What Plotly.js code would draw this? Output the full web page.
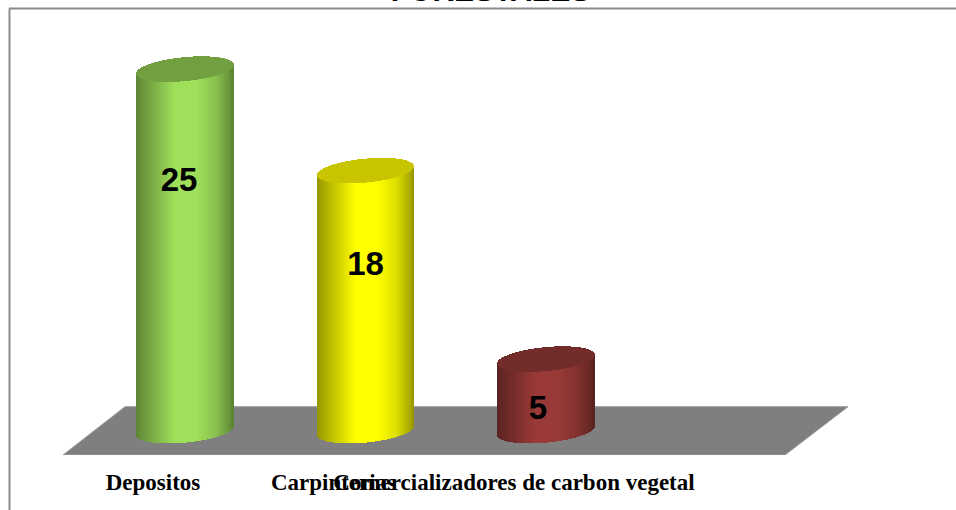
<!DOCTYPE html>
<html>
<head>
<meta charset="utf-8">
<script src="https://cdn.plot.ly/plotly-3.0.1.min.js"></script>
<style>html,body{margin:0;padding:0;background:#fff;overflow:hidden}</style>
</head>
<body>
<div id="chart" style="width:956px;height:510px"></div>
<script>
const categories = ["Depositos", "Carpinterias", "Comercializadores de carbon vegetal"];
const values = [25, 18, 5];
const titleText = "FORESTALES";
const sideLight = ["#9fe05a", "#ffff00", "#993a38"];
const capColors = ["#729f40", "#c8c400", "#722d2b"];

// chart geometry, all expressed in axis units
const W = 956, H = 510;
const pxX = 180.5, pxY = 14.5;                 // pixels per axis unit
const mL = 185, zeroPx = 435, floorFrontPx = 455;
const xMin = -mL / pxX, xMax = (W - mL) / pxX;
const yMin = -(floorFrontPx - zeroPx) / pxY, yMax = zeroPx / pxY;
const radius = 48.5 / pxX, tilt = 4.4 / pxY, halfH = 12 / pxY, centerLift = 4.4 / pxY;
const capDrop = 1 / pxY;
const skew = 32 / pxX;

function shade(hex, k) {
  const n = parseInt(hex.slice(1), 16);
  const c = [n >> 16 & 255, n >> 8 & 255, n & 255].map(v => Math.round(v * k));
  return `rgb(${c[0]},${c[1]},${c[2]})`;
}
const stops = [[-1, .58], [-.95, .62], [-.3, .95], [-.2, 1], [.25, 1], [.65, .86], [.9, .68], [1, .58]];
function profile(u) {
  for (let i = 1; i < stops.length; i++) {
    if (u <= stops[i][0]) {
      const t = (u - stops[i - 1][0]) / (stops[i][0] - stops[i - 1][0]);
      return stops[i - 1][1] + t * (stops[i][1] - stops[i - 1][1]);
    }
  }
  return stops[stops.length - 1][1];
}

const traces = [];
values.forEach((v, i) => {
  const us = [];
  for (let k = -48; k <= 48; k++) us.push(k / 48.5);
  const xs = us.map(u => i + u * radius);
  const line = us.map(u => u * tilt);                    // tilt of the ellipse axis
  const arc = us.map(u => halfH * Math.sqrt(1 - u * u));
  const low = (j, lvl) => lvl + line[j] - arc[j] + centerLift;
  const high = (j, lvl) => lvl + line[j] + arc[j] + centerLift;
  const w = 1.5 / pxX;
  const top = v - capDrop;
  // cylinder side
  traces.push({
    type: "bar", x: xs, width: xs.map(() => w),
    base: us.map((u, j) => low(j, 0)),
    y: us.map(() => top),
    marker: { color: us.map(u => shade(sideLight[i], profile(u))), line: { width: 0 } },
    hoverinfo: "skip", showlegend: false
  });
  // top cap
  traces.push({
    type: "bar", x: xs, width: xs.map(() => w),
    base: us.map((u, j) => low(j, top)),
    y: us.map((u, j) => high(j, top) - low(j, top)),
    marker: { color: capColors[i], line: { width: 0 } },
    hoverinfo: "skip", showlegend: false
  });
});

// value labels sit inside the cylinders
const labelDx = [-6 / pxX, 0, -8 / pxX];
const labelY = [(435 - 183) / pxY, (435 - 267) / pxY, (435 - 411) / pxY];
traces.push({
  type: "scatter", mode: "text",
  x: values.map((v, i) => i + labelDx[i]),
  y: labelY,
  text: values.map(String),
  textposition: "middle center",
  textfont: { family: "Liberation Sans, Arial, sans-serif", size: 33, color: "#000", weight: 700 },
  hoverinfo: "skip", showlegend: false
});

const floorPath = [
  [xMin + 63 / pxX, yMin],
  [xMin + 785 / pxX, yMin],
  [xMin + 848 / pxX, yMin + 48.3 / pxY],
  [xMin + 125 / pxX, yMin + 48.3 / pxY]
].map((p, k) => (k ? "L" : "M") + p[0] + "," + p[1]).join(" ") + " Z";

const layout = {
  width: W, height: H,
  margin: { l: 0, r: 0, t: 0, b: H - floorFrontPx, pad: 0 },
  paper_bgcolor: "#fff", plot_bgcolor: "rgba(0,0,0,0)",
  barmode: "overlay", bargap: 0,
  showlegend: false,
  title: {
    text: titleText,
    x: 490.5 / W, xref: "paper", xanchor: "center",
    y: 1, yref: "container", yanchor: "top", pad: { t: -20 },
    font: { family: "Liberation Sans, Arial, sans-serif", size: 30, color: "#000", weight: 700 }
  },
  xaxis: {
    type: "linear", range: [xMin, xMax], fixedrange: true,
    tickmode: "array",
    tickvals: categories.map((c, i) => i - skew),
    ticktext: categories,
    tickangle: 0, ticks: "", showline: false, showgrid: false, zeroline: false,
    ticklabelstandoff: 11,
    tickfont: { family: "Liberation Serif, Cambria, serif", size: 23, color: "#000", weight: 700 }
  },
  yaxis: {
    type: "linear", range: [yMin, yMax], fixedrange: true,
    visible: false
  },
  shapes: [
    { type: "path", xref: "x", yref: "y", layer: "below", path: floorPath,
      fillcolor: "#7f7f7f", line: { color: "#9a9a9a", width: 1 } },
    { type: "line", xref: "paper", yref: "paper", x0: 9.5 / W, x1: 9.5 / W, y0: 0 - (H - floorFrontPx) / floorFrontPx, y1: 1 - 8.5 / floorFrontPx,
      line: { color: "#8c8c8c", width: 2 } },
    { type: "line", xref: "paper", yref: "paper", x0: 9 / W, x1: 1, y0: 1 - 8.5 / floorFrontPx, y1: 1 - 8.5 / floorFrontPx,
      line: { color: "#8c8c8c", width: 2 } }
  ]
};
Plotly.newPlot("chart", traces, layout, { displayModeBar: false, staticPlot: true });
</script>
</body>
</html>
